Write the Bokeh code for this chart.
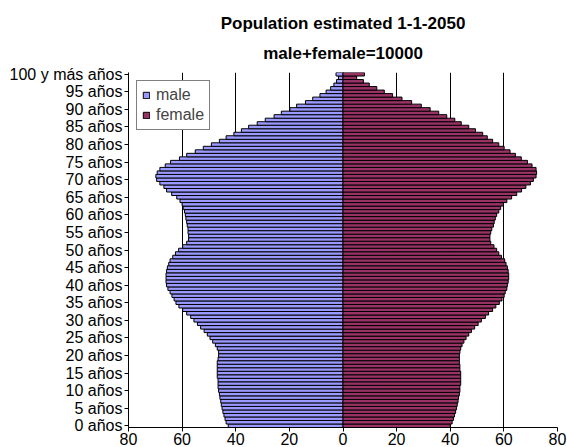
from bokeh.plotting import figure
from bokeh.models import ColumnDataSource, FixedTicker, Range1d, Title
from bokeh.embed import file_html
from bokeh.resources import INLINE

ages = list(range(0, 101))
male = [42.8, 43.6, 44.0, 44.4, 44.8, 45.1, 45.4, 45.6, 45.9, 46.1,
        46.4, 46.6, 46.6, 46.6, 46.9, 46.9, 46.9, 46.9, 46.9, 46.6,
        46.4, 46.4, 46.9, 47.6, 48.6, 49.6, 50.6, 51.8, 53.1, 54.3,
        55.6, 56.8, 58.3, 59.8, 61.2, 62.3, 63.0, 63.8, 64.5, 65.3,
        65.8, 66.0, 66.0, 66.0, 65.8, 65.5, 65.0, 64.5, 63.5, 62.5,
        61.3, 59.8, 58.3, 57.6, 57.6, 57.8, 57.8, 58.1, 58.3, 58.6,
        58.8, 59.1, 59.6, 60.0, 60.8, 62.0, 63.9, 65.8, 66.8, 68.3,
        69.5, 69.8, 69.3, 68.3, 66.3, 64.3, 61.0, 58.3, 55.1, 52.1,
        49.1, 46.1, 43.6, 40.7, 37.9, 35.2, 32.0, 29.0, 25.7, 23.0,
        19.8, 17.3, 14.0, 11.3, 8.6, 6.3, 4.6, 3.4, 2.4, 1.7,
        2.6]
female = [40.0, 40.7, 41.2, 41.6, 42.0, 42.3, 42.6, 42.9, 43.1, 43.4,
          43.6, 43.6, 43.9, 43.9, 43.9, 43.9, 43.6, 43.6, 43.4, 43.4,
          43.4, 43.6, 43.9, 44.4, 45.1, 45.9, 46.9, 47.9, 49.1, 50.4,
          51.6, 53.1, 54.3, 55.8, 57.0, 58.3, 59.3, 60.1, 60.5, 61.1,
          61.3, 61.6, 61.8, 61.8, 61.6, 61.3, 60.8, 60.3, 59.1, 58.1,
          57.3, 56.3, 55.1, 54.8, 54.8, 55.1, 55.5, 56.1, 56.4, 56.8,
          57.3, 58.1, 58.8, 59.8, 61.1, 62.9, 64.8, 66.6, 68.2, 69.9,
          71.0, 72.0, 72.2, 72.0, 70.5, 68.8, 66.5, 64.3, 62.3, 60.1,
          58.1, 55.8, 53.8, 52.1, 49.4, 46.9, 44.1, 41.7, 38.7, 35.7,
          32.5, 29.2, 25.6, 22.0, 18.5, 15.4, 12.6, 9.8, 7.6, 5.1,
          8.0]

y_ticks = list(range(0, 101, 5))
y_tick_labels = [f"{a} años" for a in range(0, 100, 5)] + ["100 y más años"]
x_ticks = [-80, -60, -40, -20, 0, 20, 40, 60, 80]
x_tick_labels = ["80", "60", "40", "20", "0", "20", "40", "60", "80"]

title_1 = "Population estimated 1-1-2050"
title_2 = "male+female=10000"

FONT = "Liberation Sans"

src = ColumnDataSource(dict(
    age=ages,
    male_left=[-v for v in male],
    female_right=female,
    zero=[0] * len(ages),
))

p = figure(width=567, height=447, output_backend="svg", toolbar_location=None,
           x_range=Range1d(-80, 80), y_range=Range1d(-0.5, 100.5),
           min_border_left=128, min_border_right=10, min_border_bottom=0,
           min_border_top=72)
p.title.text = title_1
p.title.align = "center"
p.title.text_font = FONT
p.title.text_font_size = "17px"
p.title.text_font_style = "bold"
p.title.text_color = "#000000"
p.title.text_line_height = 1.0
p.title.standoff = 0
t2 = Title(text=title_2, align="center", text_font=FONT, text_font_size="17px",
           text_font_style="bold", text_color="#000000", text_line_height=1.0,
           standoff=19)
p.add_layout(t2, "above")

p.hbar(y="age", left="male_left", right="zero", height=1, source=src,
       fill_color="#9999FF", line_color="#000000", line_width=1, legend_label="male")
p.hbar(y="age", left="zero", right="female_right", height=1, source=src,
       fill_color="#993366", line_color="#000000", line_width=1, legend_label="female")

p.outline_line_color = None
p.background_fill_color = "white"
p.border_fill_color = "white"

p.ygrid.grid_line_color = None
p.xgrid.ticker = FixedTicker(ticks=x_ticks)
p.xgrid.grid_line_color = "#000000"
p.xgrid.grid_line_width = 1

p.xaxis.ticker = FixedTicker(ticks=x_ticks)
p.xaxis.major_label_overrides = {t: l for t, l in zip(x_ticks, x_tick_labels)}
p.yaxis.ticker = FixedTicker(ticks=y_ticks)
p.yaxis.major_label_overrides = {t: l for t, l in zip(y_ticks, y_tick_labels)}

for ax in (p.xaxis[0], p.yaxis[0]):
    ax.axis_line_color = "#000000"
    ax.major_tick_line_color = "#000000"
    ax.minor_tick_line_color = None
    ax.major_tick_in = 0
    ax.major_tick_out = 4
    ax.major_label_text_font = FONT
    ax.major_label_text_font_size = "16px"
    ax.major_label_text_color = "#000000"
    ax.major_label_standoff = 2
p.xaxis.major_label_standoff = 1

p.legend.location = "top_left"
p.legend.margin = 8
p.legend.padding = 5
p.legend.spacing = 2
p.legend.glyph_width = 8
p.legend.glyph_height = 8
p.legend.label_standoff = 6
p.legend.label_text_font = FONT
p.legend.label_text_font_size = "16px"
p.legend.label_height = 18
p.legend.border_line_color = "#000000"
p.legend.border_line_width = 1
p.legend.background_fill_color = "white"
p.legend.background_fill_alpha = 1

open("out.html", "w").write(file_html(p, INLINE))
